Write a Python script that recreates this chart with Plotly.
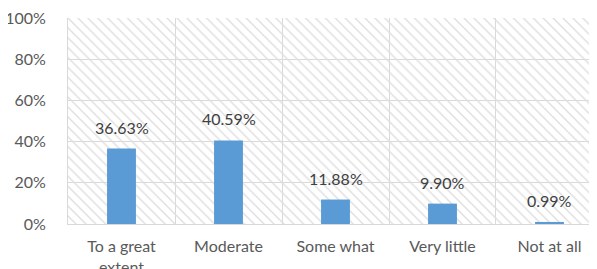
import plotly.graph_objects as go

categories = ["To a great<br>extent", "Moderate", "Some what", "Very little", "Not at all"]
values = [0.3663, 0.4059, 0.1188, 0.0990, 0.0099]
value_labels = ["36.63%", "40.59%", "11.88%", "9.90%", "0.99%"]
y_max = 1.0
y_ticks = [0, 0.2, 0.4, 0.6, 0.8, 1.0]
y_tick_labels = ["0%", "20%", "40%", "60%", "80%", "100%"]

FONT = "Lato"
grid = "#d9d9d9"

fig = go.Figure()

# hatched plot-area background
fig.add_trace(go.Bar(
    x=categories, y=[y_max] * len(categories), width=1,
    marker=dict(color="rgba(0,0,0,0)", line=dict(width=0),
                pattern=dict(shape="\\", fgcolor="#dedede", bgcolor="rgba(0,0,0,0)",
                             size=7, solidity=0.2, fillmode="replace")),
    hoverinfo="skip", showlegend=False,
))

fig.add_trace(go.Bar(
    x=categories, y=values, width=0.27,
    marker=dict(color="#5B9BD5", line=dict(width=0)),
    showlegend=False,
))

for cat, v, lab in zip(categories, values, value_labels):
    fig.add_annotation(x=cat, y=v, text=lab, showarrow=False,
                       yanchor="bottom", yshift=10,
                       font=dict(family=FONT, size=16, color="#404040"))

fig.update_layout(
    width=597, height=269,
    margin=dict(l=60, r=8, t=10, b=53, autoexpand=False),
    barmode="overlay",
    plot_bgcolor="white", paper_bgcolor="white",
    font=dict(family=FONT, size=16, color="#595959"),
    xaxis=dict(type="category", range=[-0.5, 4.444], tickson="boundaries",
               showgrid=True, gridcolor=grid, gridwidth=1,
               showline=True, linecolor=grid, linewidth=1,
               ticks="", ticklabelstandoff=8, fixedrange=True, automargin=False,
               ticklabeloverflow="allow"),
    yaxis=dict(range=[0, y_max], tickvals=y_ticks, ticktext=y_tick_labels,
               showgrid=True, gridcolor=grid, gridwidth=1,
               showline=True, linecolor=grid, linewidth=1, zeroline=False,
               ticks="", ticklabelstandoff=18, automargin=False,
               ticklabeloverflow="allow"),
)

fig.write_html("out.html")
